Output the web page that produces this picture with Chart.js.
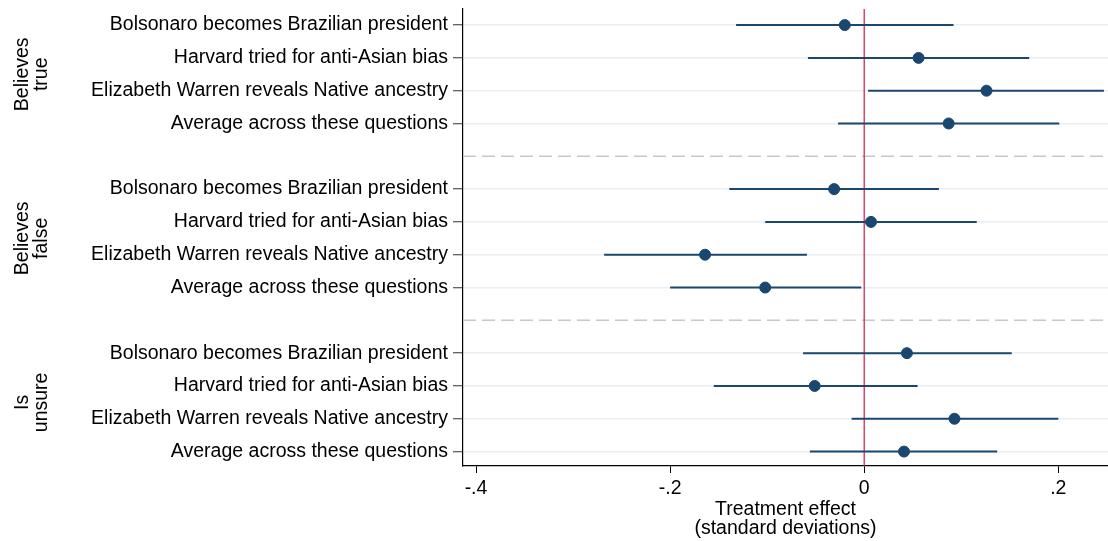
<!DOCTYPE html>
<html>
<head>
<meta charset="utf-8">
<script src="https://cdn.jsdelivr.net/npm/chart.js@4/dist/chart.umd.min.js"></script>
<style>
    body { margin: 0; background: #fff; }
    canvas { display: block; }
</style>
</head>
<body>
<canvas id="effectChart" width="1108" height="541"></canvas>
<script>
// rows of the coefficient plot (gaps at 4 and 9 hold the dashed separators)
const rowPositions = [0, 1, 2, 3, 5, 6, 7, 8, 10, 11, 12, 13];
const rowLabels = [
    'Bolsonaro becomes Brazilian president',
    'Harvard tried for anti-Asian bias',
    'Elizabeth Warren reveals Native ancestry',
    'Average across these questions',
    'Bolsonaro becomes Brazilian president',
    'Harvard tried for anti-Asian bias',
    'Elizabeth Warren reveals Native ancestry',
    'Average across these questions',
    'Bolsonaro becomes Brazilian president',
    'Harvard tried for anti-Asian bias',
    'Elizabeth Warren reveals Native ancestry',
    'Average across these questions',
];
const estimates = [-0.020, 0.056, 0.126, 0.087, -0.031, 0.007, -0.164, -0.102, 0.044, -0.051, 0.093, 0.041];
const lowerCI = [-0.132, -0.058, 0.004, -0.027, -0.139, -0.102, -0.268, -0.200, -0.063, -0.155, -0.013, -0.056];
const upperCI = [0.092, 0.170, 0.247, 0.201, 0.077, 0.116, -0.059, -0.003, 0.152, 0.055, 0.200, 0.137];

const groupLabels = [['Believes', 'true'], ['Believes', 'false'], ['Is', 'unsure']];
const groupCenters = [1.5, 6.5, 11.5];
const separatorRows = [4, 9];

const xTickValues = [-0.4, -0.2, 0, 0.2];
const xTickLabels = ['-.4', '-.2', '0', '.2'];
const xMin = -0.4134;
const xMax = 0.2512;
const yMin = -0.49;
const yMax = 13.44;

const navy = '#1a476f';

Chart.defaults.font.family = '"Liberation Sans", Arial, sans-serif';
Chart.defaults.font.size = 19.5;
Chart.defaults.color = '#000';

// build the datasets
const datasets = [];

// points on top
datasets.push({
    type: 'scatter',
    data: rowPositions.map((row, i) => ({x: estimates[i], y: row})),
    backgroundColor: navy,
    borderColor: navy,
    pointRadius: 5.5,
    pointHoverRadius: 5.5,
    order: 0,
});

// confidence intervals
rowPositions.forEach((row, i) => {
    datasets.push({
        type: 'line',
        data: [{x: lowerCI[i], y: row}, {x: upperCI[i], y: row}],
        borderColor: navy,
        borderWidth: 2,
        pointRadius: 0,
        order: 1,
    });
});

// zero reference line
datasets.push({
    type: 'line',
    data: [{x: 0, y: yMin}, {x: 0, y: yMax}],
    borderColor: '#e3224f',
    borderWidth: 1.3,
    pointRadius: 0,
    order: 2,
});

// dashed separators between groups
separatorRows.forEach(row => {
    datasets.push({
        type: 'line',
        data: [{x: xMin, y: row}, {x: xMax, y: row}],
        borderColor: '#c8c8c8',
        borderWidth: 1.5,
        borderDash: [13, 6],
        pointRadius: 0,
        order: 3,
    });
});

// rotated group names on the far left
const groupLabelPlugin = {
    id: 'groupLabels',
    afterDraw(chart) {
        const ctx = chart.ctx;
        const yScale = chart.scales.y;
        ctx.save();
        ctx.font = '19.5px "Liberation Sans", Arial, sans-serif';
        ctx.fillStyle = '#000';
        ctx.textAlign = 'center';
        ctx.textBaseline = 'alphabetic';
        groupLabels.forEach((lines, i) => {
            const cy = yScale.getPixelForValue(groupCenters[i]);
            ctx.save();
            ctx.translate(28, cy);
            ctx.rotate(-Math.PI / 2);
            lines.forEach((line, j) => ctx.fillText(line, 0, j * 19));
            ctx.restore();
        });
        ctx.restore();
    }
};

const ctx = document.getElementById('effectChart').getContext('2d');
new Chart(ctx, {
    type: 'scatter',
    data: {datasets: datasets},
    plugins: [groupLabelPlugin],
    options: {
        responsive: false,
        animation: false,
        layout: {autoPadding: false, padding: {top: 9, right: 0, bottom: 0, left: 0}},
        plugins: {
            legend: {display: false},
            tooltip: {enabled: false},
        },
        scales: {
            x: {
                type: 'linear',
                min: xMin,
                max: xMax,
                afterBuildTicks: function(scale) {
                    scale.ticks = xTickValues.map(v => ({value: v}));
                },
                afterFit: function(scale) {
                    scale.height = 75;
                    scale.paddingLeft = 0;
                    scale.paddingRight = 0;
                },
                ticks: {
                    padding: 4,
                    maxRotation: 0,
                    autoSkip: false,
                    callback: function(value, index) {
                        return xTickLabels[index];
                    }
                },
                grid: {
                    drawOnChartArea: false,
                    drawTicks: true,
                    tickLength: 7,
                    tickColor: '#000',
                    tickWidth: 1,
                },
                border: {color: '#000', width: 1.2},
                title: {
                    display: true,
                    text: ['Treatment effect', '(standard deviations)'],
                    font: {size: 19.5, lineHeight: 0.97},
                    padding: {top: 0, bottom: 3},
                },
            },
            y: {
                type: 'linear',
                reverse: true,
                min: yMin,
                max: yMax,
                afterBuildTicks: function(scale) {
                    scale.ticks = rowPositions.map(v => ({value: v}));
                },
                afterFit: function(scale) {
                    scale.width = 463;
                    scale.paddingTop = 0;
                    scale.paddingBottom = 0;
                },
                ticks: {
                    padding: 5,
                    autoSkip: false,
                    callback: function(value) {
                        return rowLabels[rowPositions.indexOf(value)];
                    }
                },
                grid: {
                    color: '#e8eff3',
                    lineWidth: 1.5,
                    tickLength: 10,
                    tickColor: '#333',
                    tickWidth: 1,
                },
                border: {color: '#000', width: 1.2},
            },
        },
    }
});
</script>
</body>
</html>
